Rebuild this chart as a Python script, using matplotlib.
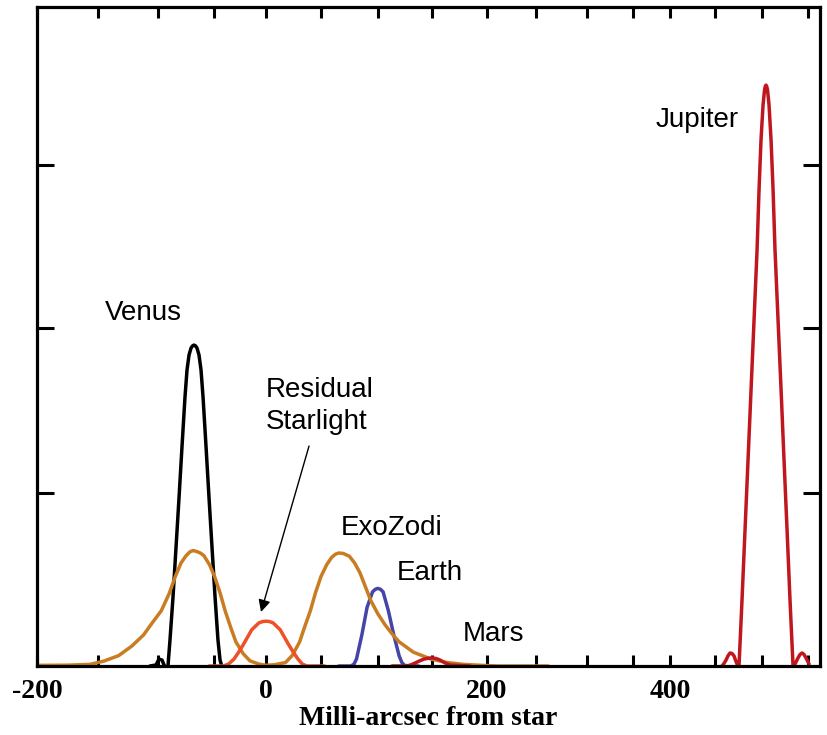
import numpy as np
import matplotlib.pyplot as plt

# x positions in milli-arcsec, y in arbitrary intensity units
exozodi_x = [-200, -175, -156.4, -145, -132.8, -122, -112.1, -105, -97.1, -90, -84.5, -79.5,
             -74.9, -71.5, -68.6, -65.5, -62, -59.1, -54, -49.5, -44, -39.3, -34, -29.0,
             -22, -15.4, -7, 0, 8, 17.7, 24, 30.6, 35, 40.3, 45, 50, 55, 59.3, 62.5, 65.5,
             69.5, 74.9, 79.5, 84.2, 89, 93.6, 100, 106.4, 113, 119.5, 132.7, 149.1, 163,
             178.2, 195, 211.7, 262]
exozodi_y = [0.004, 0.005, 0.010, 0.030, 0.063, 0.120, 0.188, 0.260, 0.335, 0.440, 0.544, 0.625,
             0.670, 0.693, 0.701, 0.695, 0.685, 0.670, 0.615, 0.544, 0.440, 0.335, 0.235, 0.147,
             0.075, 0.031, 0.012, 0.004, 0.008, 0.021, 0.065, 0.147, 0.235, 0.335, 0.445, 0.544,
             0.615, 0.659, 0.678, 0.686, 0.683, 0.666, 0.625, 0.565, 0.480, 0.398, 0.315,
             0.251, 0.195, 0.147, 0.084, 0.042, 0.022, 0.010, 0.004, 0.0, 0.0]

venus_x = [-106.7, -101.7, -99.1, -96.4, -94.6, -92.9, -91.1, -89.3, -86.6, -83.9, -81.2,
           -78.6, -75.9, -74.1, -72.3, -70.5, -69.2, -67.9, -66.5, -65.2, -63.4, -61.6,
           -59.8, -57.1, -54.5, -51.8, -49.0, -46.2, -44.2, -42.3]
venus_y = [0.0, 0.006, 0.042, 0.036, 0.006, -0.012, 0.0, 0.158, 0.419, 0.722, 1.026,
           1.329, 1.633, 1.797, 1.888, 1.930, 1.943, 1.948, 1.943, 1.930, 1.888, 1.797,
           1.633, 1.329, 1.026, 0.722, 0.419, 0.158, 0.036, -0.006]

starlight_x = [-54.3, -41.0, -36.0, -30.8, -26.5, -22.2, -13.7, -6.8, -3.0, 0, 3.0, 6.4,
               12.9, 20.9, 25.0, 29.1, 33.0, 37.1, 53.1]
starlight_y = [0.0, 0.0, 0.012, 0.042, 0.082, 0.126, 0.220, 0.262, 0.270, 0.272, 0.270, 0.262,
               0.220, 0.126, 0.082, 0.042, 0.012, 0.0, 0.0]

earth_x = [65.5, 76.3, 79.0, 81.1, 85.8, 90.4, 95.2, 97.5, 99.8, 102.2, 104.7, 109.6, 114.6,
           119.5, 122.0, 124.4, 129.3, 137.6]
earth_y = [0.0, 0.0, 0.012, 0.042, 0.188, 0.356, 0.450, 0.465, 0.471, 0.466, 0.450, 0.335,
           0.188, 0.063, 0.022, 0.004, 0.0, 0.0]

mars_x = [113.0, 126.9, 130.5, 134.3, 138.5, 142.6, 146.5, 150.0, 154.0, 157.3, 162.0, 166.4, 184.5]
mars_y = [0.0, 0.0, 0.007, 0.018, 0.031, 0.042, 0.047, 0.049, 0.045, 0.036, 0.018, 0.006, 0.0]

jupiter_x = [457.4, 459.5, 461.7, 463.8, 466.0, 468.1, 470.2, 471.8, 473.4, 475.5, 478.7,
             481.9, 485.1, 488.3, 491.5, 494.7, 496.8, 498.9, 501.1, 502.7, 503.5, 504.3,
             505.1, 506.0, 507.6, 509.8, 512.0, 514.1, 517.4, 520.7, 523.9, 527.2, 530.4,
             533.7, 534.8, 537.0, 539.1, 541.3, 543.5, 545.6, 547.8, 551.1]
jupiter_y = [0.0, 0.015, 0.036, 0.062, 0.079, 0.076, 0.061, 0.035, 0.012, 0.0, 0.401,
             0.825, 1.250, 1.675, 2.100, 2.525, 2.889, 3.193, 3.405, 3.496, 3.518, 3.526,
             3.518, 3.496, 3.405, 3.193, 2.889, 2.525, 2.100, 1.675, 1.250, 0.825, 0.401,
             0.0, 0.0, 0.025, 0.049, 0.070, 0.079, 0.070, 0.049, 0.012]

tick_values = list(range(-200, 551, 50))
tick_labels = ['-200' if v == -200 else (str(v) if v % 200 == 0 else '') for v in tick_values]

# the original x axis is not evenly spaced: map each 50 mas step onto its own width
scale_mas = [-1000, -200, -150, -100, -50, 0, 50, 100, 150, 200, 250, 300, 350, 400, 450, 500, 550, 2000]
scale_pos = [-939, 37, 98, 158, 214, 266, 321, 378, 432, 487, 536, 587, 633, 670, 715, 762, 808, 2142]


def fwd(x):
    return np.interp(x, scale_mas, scale_pos)


def inv(p):
    return np.interp(p, scale_pos, scale_mas)


fig = plt.figure(figsize=(8.28, 7.35), dpi=100)
ax = fig.add_axes([37 / 828, 1 - 666 / 735, 783 / 828, 659 / 735])
ax.set_xscale('function', functions=(fwd, inv))

line = dict(lw=2.5, solid_joinstyle='round', solid_capstyle='round')
ax.plot(venus_x, venus_y, color='black', **line)
ax.plot(earth_x, earth_y, color='#4545A8', **line)
ax.plot(exozodi_x, exozodi_y, color='#C97D22', **line)
ax.plot(starlight_x, starlight_y, color='#EE5028', **line)
ax.plot(mars_x, mars_y, color='#C0161E', **line)
ax.plot(jupiter_x, jupiter_y, color='#C0161E', **line)

ax.set_xlim(-200, 563)
ax.set_ylim(0, 4.0)

ax.set_xticks(tick_values)
ax.set_xticklabels(tick_labels, fontfamily='Liberation Serif', fontweight='bold', fontsize=20)
ax.set_yticks([1.05, 2.05, 3.04])
ax.set_yticklabels([])
ax.minorticks_off()
ax.tick_params(axis='x', direction='in', length=8, width=2.2, top=True, bottom=True, pad=9)
ax.tick_params(axis='y', direction='in', length=12, width=2.2, left=True, right=True)
for s in ax.spines.values():
    s.set_linewidth(2.3)

ax.set_xlabel('Milli-arcsec from star', fontfamily='Liberation Serif', fontweight='bold',
              fontsize=20, labelpad=2)

txt = dict(fontsize=20, fontfamily='Liberation Sans', color='black')
ax.text(430, 3.314, 'Jupiter', ha='center', va='center', **txt)
ax.text(-112.5, 2.143, 'Venus', ha='center', va='center', **txt)
ax.text(0, 1.58, 'Residual\nStarlight', ha='left', va='center', linespacing=1.3, **txt)
ax.text(113, 0.838, 'ExoZodi', ha='center', va='center', **txt)
ax.text(148.1, 0.564, 'Earth', ha='center', va='center', **txt)
ax.text(206.1, 0.194, 'Mars', ha='center', va='center', **txt)
ax.annotate('', xy=(-4.8, 0.328), xytext=(39.1, 1.335),
            arrowprops=dict(arrowstyle='-|>', color='black', lw=1.0, mutation_scale=18,
                            shrinkA=0, shrinkB=0))

fig.savefig('out.png', dpi=100)
